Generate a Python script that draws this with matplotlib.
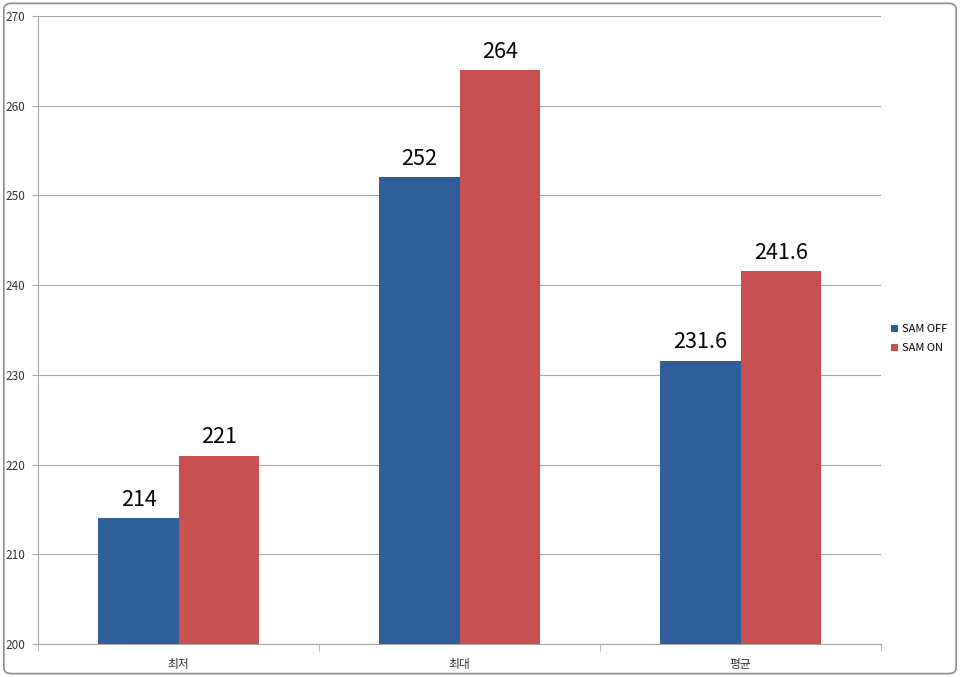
import numpy as np
import matplotlib.pyplot as plt
from matplotlib.patches import FancyBboxPatch

plt.rcParams['font.family'] = ['Noto Sans CJK KR', 'DejaVu Sans']

categories = ['최저', '최대', '평균']
sam_off = [214, 252, 231.6]
sam_on = [221, 264, 241.6]
labels_off = ['214', '252', '231.6']
labels_on = ['221', '264', '241.6']

blue = '#2F5F98'
red = '#C85050'
grid_c = '#A6A6A6'

fig = plt.figure(figsize=(9.6, 6.77), dpi=100)
ax = fig.add_axes([38 / 960, 33 / 677, 843 / 960, 628 / 677])

x = np.arange(len(categories))
w = 0.285
b1 = ax.bar(x - w / 2, sam_off, width=w, color=blue, label='SAM OFF', zorder=3)
b2 = ax.bar(x + w / 2, sam_on, width=w, color=red, label='SAM ON', zorder=3)

for rects, labs in ((b1, labels_off), (b2, labels_on)):
    for r, t in zip(rects, labs):
        ax.text(r.get_x() + r.get_width() / 2, r.get_height() + 0.8, t,
                ha='center', va='bottom', fontsize=15.5, color='black',
                fontweight='medium')

ax.set_ylim(200, 270)
ax.set_xlim(-0.5, 2.5)
ax.set_yticks(range(200, 271, 10))
ax.tick_params(axis='y', labelsize=8.5, colors='#333333', length=4, color=grid_c, pad=5)
ax.set_xticks(x)
ax.set_xticklabels(categories)
ax.tick_params(axis='x', which='major', length=0, labelsize=8.5, pad=10, colors='#333333')
ax.set_xticks([-0.5, 0.5, 1.5, 2.5], minor=True)
ax.tick_params(axis='x', which='minor', length=5, color=grid_c)

ax.grid(axis='y', color=grid_c, linewidth=0.8, zorder=0)
for s in ('top', 'right'):
    ax.spines[s].set_visible(False)
for s in ('left', 'bottom'):
    ax.spines[s].set_color(grid_c)

leg = ax.legend(loc='center left', bbox_to_anchor=(1.0, 0.486), frameon=False,
                fontsize=8, handlelength=0.6, handleheight=0.6,
                handletextpad=0.4, labelspacing=0.8)

border = FancyBboxPatch((0.004, 0.005), 0.992, 0.99, boxstyle='round,pad=0,rounding_size=0.008',
                        transform=fig.transFigure, fill=False, edgecolor='#8C8C8C',
                        linewidth=1.2)
fig.patches.append(border)

fig.savefig('out.png', dpi=100)
